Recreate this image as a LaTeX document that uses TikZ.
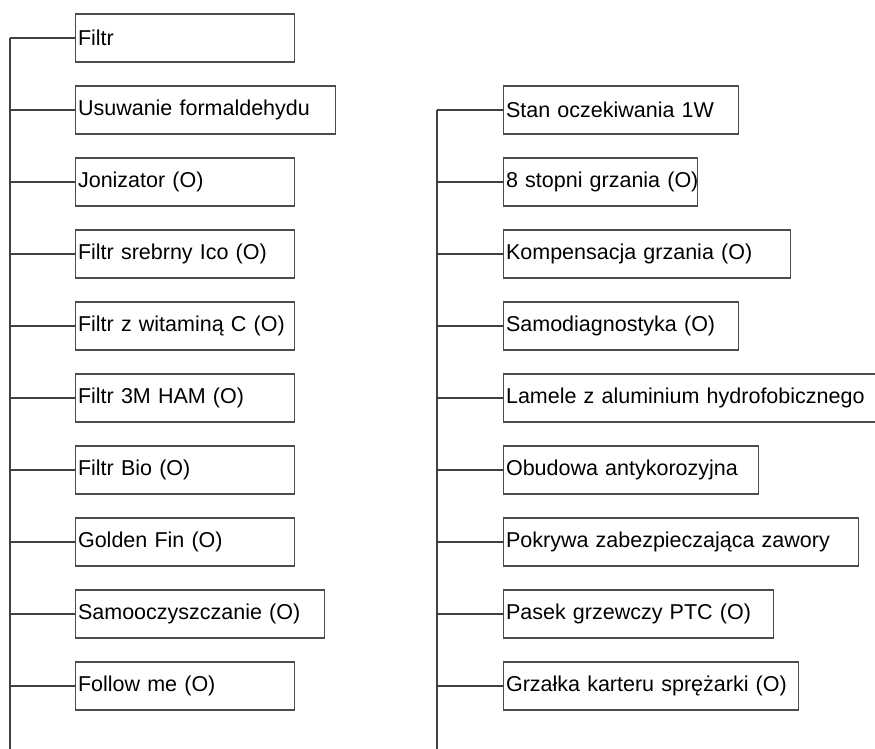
\documentclass[tikz,border=0pt]{standalone}
\usepackage{fontspec}
\setmainfont{Liberation Sans}
\begin{document}
\begin{tikzpicture}[x=1pt, y=-1pt, item/.style={draw=black!70, line width=1.1pt, anchor=west, minimum height=48pt, inner xsep=2.5pt, align=left, font=\fontsize{21.5}{24}\selectfont}, link/.style={draw=black!75, line width=1.1pt}]
    \useasboundingbox (0,0) rectangle (875,749);
    \coordinate (LT) at (10,38); \coordinate (LB) at (10,749);
    \coordinate (RT) at (437,110); \coordinate (RB) at (437,749);
%
    \node (L1) at (75,38) [item, text width=214pt] {Filtr};
    \node (L2) at (75,110) [item, text width=255pt] {Usuwanie formaldehydu};
    \node (L3) at (75,182) [item, text width=214pt] {Jonizator (O)};
    \node (L4) at (75,254) [item, text width=214pt] {Filtr srebrny Ico (O)};
    \node (L5) at (75,326) [item, text width=214pt] {Filtr z witaminą C (O)};
    \node (L6) at (75,398) [item, text width=214pt] {Filtr 3M HAM (O)};
    \node (L7) at (75,470) [item, text width=214pt] {Filtr Bio (O)};
    \node (L8) at (75,542) [item, text width=214pt] {Golden Fin (O)};
    \node (L9) at (75,614) [item, text width=244pt] {Samooczyszczanie (O)};
    \node (L10) at (75,686) [item, text width=214pt] {Follow me (O)};
%
    \node (R1) at (503,110) [item, text width=230pt] {Stan oczekiwania 1W};
    \node (R2) at (503,182) [item, text width=189pt] {\mbox{8 stopni grzania (O)}};
    \node (R3) at (503,254) [item, text width=282pt] {Kompensacja grzania (O)};
    \node (R4) at (503,326) [item, text width=230pt] {Samodiagnostyka (O)};
    \node (R5) at (503,398) [item, text width=377pt] {Lamele z aluminium hydrofobicznego};
    \node (R6) at (503,470) [item, text width=250pt] {Obudowa antykorozyjna};
    \node (R7) at (503,542) [item, text width=350pt] {Pokrywa zabezpieczająca zawory};
    \node (R8) at (503,614) [item, text width=265pt] {Pasek grzewczy PTC (O)};
    \node (R9) at (503,686) [item, text width=290pt] {Grzałka karteru sprężarki (O)};
%
    \draw [link] (LT) -- (LB);
    \foreach \i in {1,...,10} \draw [link] (L\i.west) -- (L\i.west -| LT);
%
    \draw [link] (RT) -- (RB);
    \foreach \i in {1,...,9} \draw [link] (R\i.west) -- (R\i.west -| RT);
\end{tikzpicture}
\end{document}
